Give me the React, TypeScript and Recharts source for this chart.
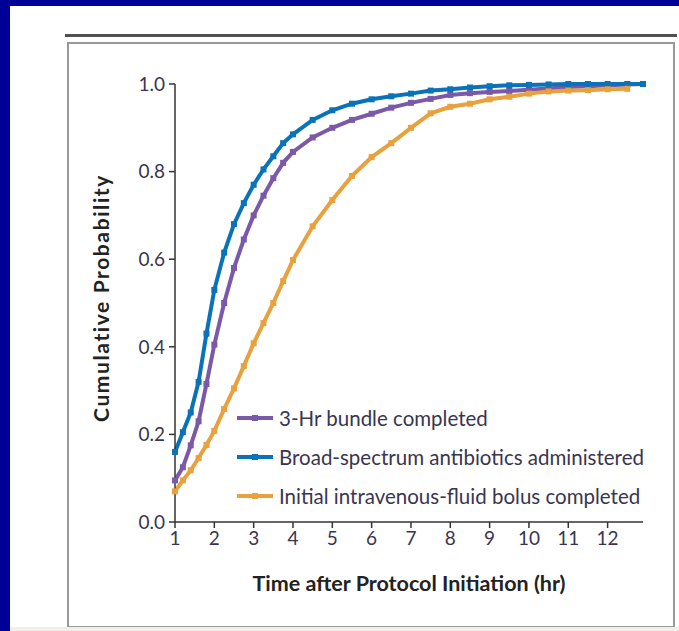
import React from 'react';
import { LineChart, Line, XAxis, YAxis } from 'recharts';

const hours = [1, 1.2, 1.4, 1.6, 1.8, 2, 2.25, 2.5, 2.75, 3, 3.25, 3.5, 3.75, 4, 4.5, 5, 5.5, 6, 6.5, 7, 7.5, 8, 8.5, 9, 9.5, 10, 10.5, 11, 11.5, 12, 12.5, 12.9];

const bundle = [0.095, 0.125, 0.175, 0.23, 0.315, 0.405, 0.5, 0.58, 0.645, 0.7, 0.745, 0.785, 0.82, 0.845, 0.878, 0.9, 0.918, 0.932, 0.946, 0.957, 0.966, 0.975, 0.979, 0.982, 0.984, 0.987, 0.99, 0.993, 0.995, 0.997, 0.999, 1.0];
const antibiotics = [0.16, 0.205, 0.25, 0.32, 0.43, 0.53, 0.615, 0.68, 0.728, 0.77, 0.805, 0.835, 0.865, 0.885, 0.918, 0.94, 0.955, 0.965, 0.972, 0.978, 0.985, 0.988, 0.992, 0.995, 0.997, 0.998, 0.999, 1.0, 1.0, 1.0, 1.0, 1.0];
const fluid = [0.07, 0.095, 0.118, 0.146, 0.176, 0.208, 0.258, 0.305, 0.356, 0.408, 0.454, 0.5, 0.55, 0.598, 0.675, 0.735, 0.79, 0.833, 0.865, 0.9, 0.933, 0.948, 0.955, 0.965, 0.971, 0.978, 0.983, 0.985, 0.986, 0.988, 0.989, null];

const xTicks = [1, 2, 3, 4, 5, 6, 7, 8, 9, 10, 11, 12];
const yTicks = [0, 0.2, 0.4, 0.6, 0.8, 1.0];

const series = [
  { key: 'bundle', name: '3-Hr bundle completed', color: '#7a5aa8' },
  { key: 'antibiotics', name: 'Broad-spectrum antibiotics administered', color: '#0a72b8' },
  { key: 'fluid', name: 'Initial intravenous-fluid bolus completed', color: '#e8a13c' },
];

const data = hours.map((h, i) => ({
  hour: h,
  bundle: bundle[i],
  antibiotics: antibiotics[i],
  fluid: fluid[i],
}));

const FONT = 'Lato, "Open Sans", sans-serif';
const INK = '#3a3550';

const SquareDot = (props: any) => {
  const { cx, cy, stroke } = props;
  if (cx == null || cy == null || props.value == null) return null;
  return <rect x={cx - 3} y={cy - 3} width={6} height={6} fill={stroke} />;
};

// legend drawn in HTML so recharts doesn't shrink the plot for it
const LegendBox = () => (
  <div style={{ position: 'absolute', left: 235, top: 398, fontFamily: FONT, fontSize: 20.5, color: INK }}>
    {series.map((s) => (
      <div key={s.key} style={{ display: 'flex', alignItems: 'center', height: 39, whiteSpace: 'nowrap' }}>
        <svg width={40} height={10} style={{ marginRight: 4 }}>
          <line x1={2} y1={5} x2={38} y2={5} stroke={s.color} strokeWidth={4} />
          <rect x={17} y={2} width={6} height={6} fill={s.color} />
        </svg>
        <span>{s.name}</span>
      </div>
    ))}
  </div>
);

export default function App() {
  return (
    <div style={{ position: 'absolute', left: 0, top: 0, width: 679, height: 631, background: '#000099', overflow: 'hidden' }}>
      <div style={{ position: 'absolute', left: 10, top: 6, width: 669, height: 625, background: '#fff' }} />
      <div style={{ position: 'absolute', left: 65, top: 34, width: 612, height: 3, background: '#505050' }} />
      <div style={{ position: 'absolute', left: 67, top: 42, width: 604, height: 582, border: '2px solid #999' }} />
      <div style={{ position: 'absolute', left: 10, top: 627, width: 669, height: 4, background: '#f2efe9' }} />
      <div style={{ position: 'absolute', left: 0, top: 0 }}>
        <LineChart width={679} height={631} data={data} margin={{ top: 84, right: 36, bottom: 79, left: 115 }}>
          <XAxis
            dataKey="hour"
            type="number"
            domain={[1, 12.9]}
            ticks={xTicks}
            height={30}
            stroke="#333"
            strokeWidth={1.5}
            tickSize={6}
            tickMargin={4}
            tick={{ fill: INK, fontSize: 19, fontFamily: FONT }}
          />
          <YAxis
            type="number"
            domain={[0, 1]}
            ticks={yTicks}
            width={60}
            stroke="#333"
            strokeWidth={1.5}
            tickSize={6}
            tickMargin={4}
            tickFormatter={(v: number) => v.toFixed(1)}
            tick={{ fill: INK, fontSize: 19, fontFamily: FONT }}
          />
          {series.map((s) => (
            <Line
              key={s.key}
              dataKey={s.key}
              name={s.name}
              type="linear"
              stroke={s.color}
              strokeWidth={4}
              dot={<SquareDot />}
              activeDot={false}
              connectNulls={false}
              isAnimationActive={false}
            />
          ))}
        </LineChart>
      </div>
      <LegendBox />
      <div style={{ position: 'absolute', left: 175, width: 468, top: 570, textAlign: 'center', fontFamily: FONT, fontWeight: 700, fontSize: 21.5, color: '#222' }}>
        Time after Protocol Initiation (hr)
      </div>
      <div style={{ position: 'absolute', left: 100, top: 298, transform: 'translate(-50%, -50%) rotate(-90deg)', whiteSpace: 'nowrap', fontFamily: FONT, fontWeight: 700, fontSize: 21, letterSpacing: 1.6, color: '#222' }}>
        Cumulative Probability
      </div>
    </div>
  );
}
